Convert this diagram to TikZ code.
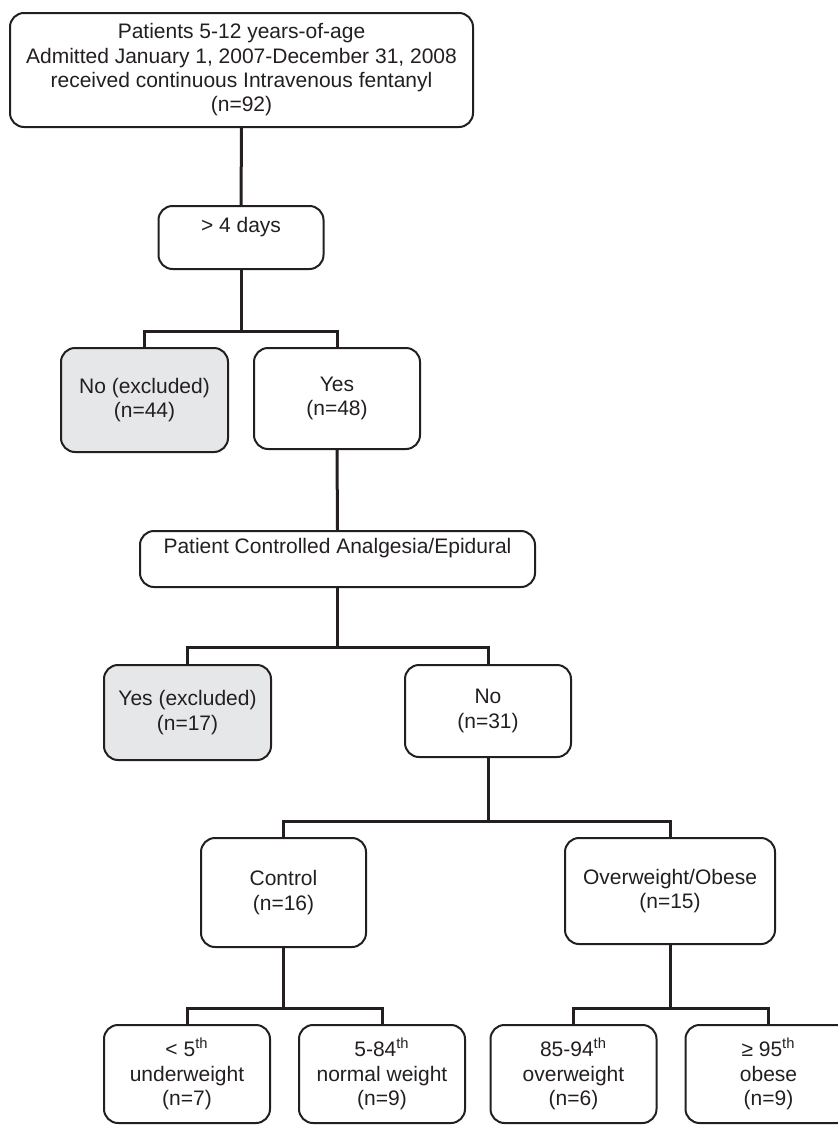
\documentclass[tikz,border=0pt]{standalone}
\usepackage{fontspec}
\setmainfont{Liberation Sans}
\usepackage{xcolor}
\usepackage{tikz}
\usetikzlibrary{positioning,calc}
\definecolor{ink}{HTML}{231F20}
\definecolor{shade}{HTML}{E6E7E8}

\begin{document}
\begin{tikzpicture}[x=0.5pt,y=-0.5pt,
  proc/.style={draw=ink, line width=1pt, rounded corners=7pt, align=center,
               inner sep=0pt, text=ink, font=\fontsize{10.5}{12.15}\selectfont},
  excl/.style={proc, fill=shade},
  lift/.style={text depth=13pt},
  leaf/.style={proc, minimum width=83pt, minimum height=49pt},
  link/.style={draw=ink, line width=1.5pt}
]
\useasboundingbox (0,0) rectangle (838,1125);
% cohort and screening
\node[proc, minimum width=231.5pt, minimum height=57pt] (pop) at (241.5,70)
  {Patients 5-12 years-of-age\\Admitted January 1, 2007-December 31, 2008\\received continuous Intravenous fentanyl\\(n=92)};
\node[proc, lift, minimum width=82.5pt, minimum height=31.5pt] (days) at (241,237.5) {> 4 days};
\node[excl, minimum width=83.5pt, minimum height=52pt] (noex) at (144.5,400) {No (excluded)\\(n=44)};
\node[proc, minimum width=83pt, minimum height=50.5pt] (yes) at (337,398.5) {Yes\\(n=48)};
\node[proc, lift, minimum width=197.5pt, minimum height=28pt] (pca) at (337.5,559) {Patient Controlled Analgesia/Epidural};
\node[excl, minimum width=83.5pt, minimum height=47.5pt] (yesex) at (187.5,712.5) {Yes (excluded)\\(n=17)};
\node[proc, minimum width=83pt, minimum height=46pt] (no) at (488,711) {No\\(n=31)};
% weight groups
\node[proc, minimum width=82.5pt, minimum height=54.5pt] (ctrl) at (283.5,892.5) {Control\\(n=16)};
\node[proc, minimum width=105pt, minimum height=53pt] (ovob) at (670,891) {Overweight/Obese\\(n=15)};
\node[leaf] (under) at (187,1074) {< 5\textsuperscript{th}\\underweight\\(n=7)};
\node[leaf, right=13.5pt of under] (normal) {5-84\textsuperscript{th}\\normal weight\\(n=9)};
\node[leaf] (overw) at (573.5,1074) {85-94\textsuperscript{th}\\overweight\\(n=6)};
\node[leaf, right=13.5pt of overw] (obese) {≥ 95\textsuperscript{th}\\obese\\(n=9)};
% branch points
\coordinate (b1) at (241,331);
\coordinate (b2) at (337.5,647);
\coordinate (b3) at (488,821);
\coordinate (b4) at (283.5,1008);
\coordinate (b5) at (670,1008);
\draw[link] (pop.south) -- (days.north);
\draw[link] (days.south) -- (b1);
\draw[link] (noex.north) |- (b1) -| (yes.north);
\draw[link] (yes.south) -- (pca.north);
\draw[link] (pca.south) -- (b2);
\draw[link] (yesex.north) |- (b2) -| (no.north);
\draw[link] (no.south) -- (b3);
\draw[link] (ctrl.north) |- (b3) -| (ovob.north);
\draw[link] (ctrl.south) -- (b4);
\draw[link] (under.north) |- (b4) -| (normal.north);
\draw[link] (ovob.south) -- (b5);
\draw[link] (overw.north) |- (b5) -| (obese.north);
\end{tikzpicture}
\end{document}
